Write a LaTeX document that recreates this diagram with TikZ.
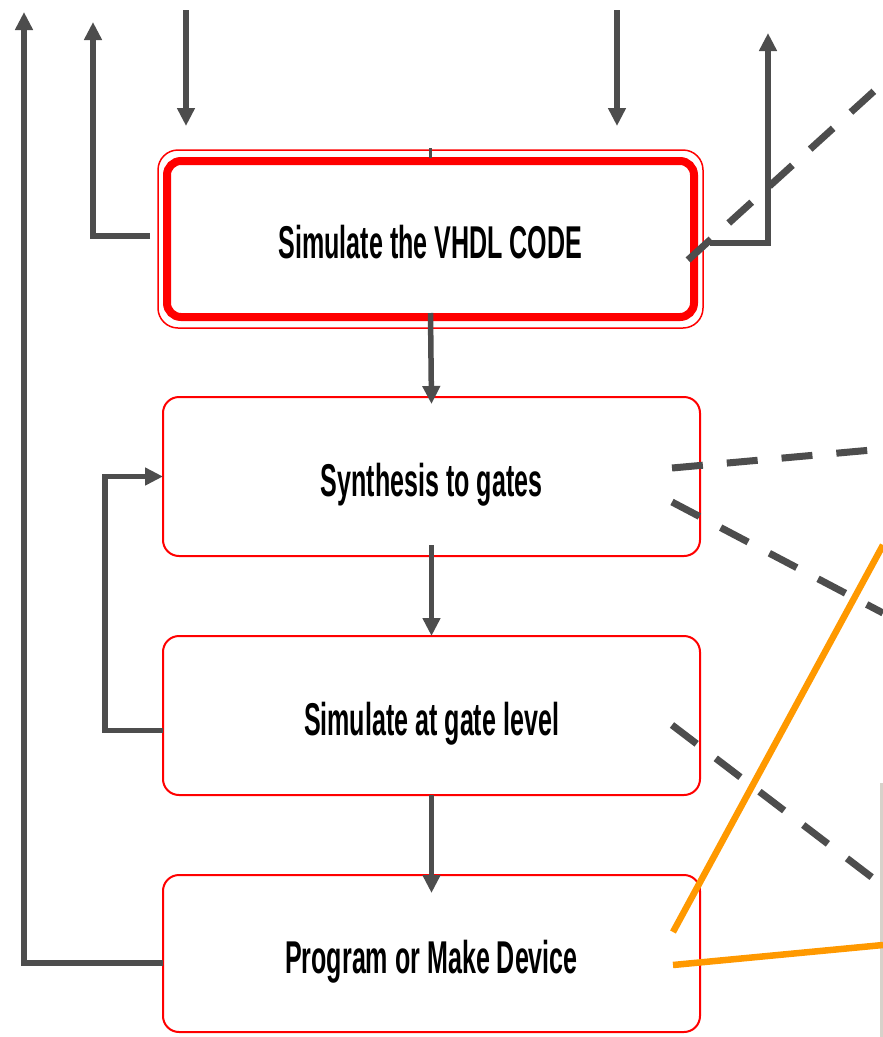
\documentclass[tikz,border=0pt]{standalone}
\usepackage{graphicx}
\usepackage{fontspec}
\setmainfont{Liberation Sans}
\usetikzlibrary{arrows.meta,calc}

\definecolor{flowred}{HTML}{FF0000}
\definecolor{linkgray}{HTML}{4D4D4D}
\definecolor{linkorange}{HTML}{FF9900}
\definecolor{edgeshade}{HTML}{D6D2CA}

\newcommand\steptext[1]{\scalebox{0.545}[1]{#1}}

\begin{document}
\begin{tikzpicture}[x=1pt,y=-1pt,
  stepbox/.style={draw=flowred, line width=2pt, rounded corners=16pt,
    minimum width=537pt, minimum height=159pt, inner sep=0pt, outer sep=0pt,
    font=\fontsize{46}{50}\selectfont\bfseries, text height=39pt, text depth=0pt,
    align=center},
  flowarrow/.style={draw=linkgray, line width=5.5pt,
    -{Triangle[length=18pt,width=17pt]}},
  linkdash/.style={draw=linkgray, line width=7pt, dash pattern=on 31pt off 24pt},
  linkbar/.style={draw=linkorange, line width=6.5pt}]

  % page
  \fill[white] (0,0) rectangle (883,1037);
  \useasboundingbox (0,0) rectangle (883,1037);
  \fill[edgeshade] (880,783) rectangle (883,1037);

  % process steps
  \node[stepbox, line width=1.5pt, minimum width=545pt, minimum height=178pt,
        rounded corners=20pt] (b1) at (430.5,239) {\steptext{Simulate the VHDL CODE}};
  \draw[flowred, line width=8pt, rounded corners=14pt]
    ($(b1.south west)+(9,-11)$) rectangle ($(b1.north east)+(-9,11)$);
  \node[stepbox] (b2) at (431.5,476.5) {\steptext{Synthesis to gates}};
  \node[stepbox] (b3) at (431.5,715.5) {\steptext{Simulate at gate level}};
  \node[stepbox, minimum height=157pt] (b4) at (431.5,953.5) {\steptext{Program or Make Device}};

  % free ends at the top
  \coordinate (inA) at (186,10);
  \coordinate (inAend) at (186,126);
  \coordinate (inB) at (617,10);
  \coordinate (inBend) at (617,126);
  \coordinate (outA) at (24,12);
  \coordinate (outB) at (93,22);
  \coordinate (outC) at (768,33);

  % incoming arrows
  \draw[flowarrow] (inA) -- (inAend);
  \draw[flowarrow] (inB) -- (inBend);
  \draw[linkgray, line width=3pt] ([yshift=2pt]b1.north) -- ([yshift=-8pt]b1.north);

  % main flow
  \draw[flowarrow] ([yshift=15pt]b1.south) -- ([yshift=-7pt]b2.north);
  \draw[flowarrow] ([yshift=11pt]b2.south) -- (b3.north);
  \draw[flowarrow] (b3.south) -- ([yshift=-18pt]b4.north);

  % feedback loop from gate-level simulation to synthesis
  \draw[flowarrow] ([yshift=-15pt]b3.west) -| ([xshift=-58pt]b2.west) -- (b2.west);

  % outgoing arrows
  \draw[flowarrow] ([yshift=-9.5pt]b4.west) -| (outA);
  \draw[flowarrow] ([xshift=-8pt,yshift=3pt]b1.west) -| (outB);
  \draw[flowarrow] ([xshift=7pt,yshift=-4pt]b1.east) -| (outC);

  % dashed links to the right
  \coordinate (dA) at (883,83);
  \coordinate (dB) at (883,449);
  \coordinate (dC) at (883,613);
  \coordinate (dD) at (878,882);
  \draw[linkdash] ([xshift=-15pt,yshift=-21pt]b1.east) -- (dA);
  \draw[linkdash] ([xshift=-28pt,yshift=8.5pt]b2.east) -- (dB);
  \draw[linkdash] ([xshift=-28pt,yshift=-25.5pt]b2.east) -- (dC);
  \draw[linkdash] ([xshift=-28pt,yshift=-9.5pt]b3.east) -- (dD);

  % orange links from the device step
  \coordinate (oA) at (883,545);
  \coordinate (oB) at (883,945);
  \draw[linkbar] ([xshift=-27pt,yshift=21.5pt]b4.east) -- (oA);
  \draw[linkbar] ([xshift=-27pt,yshift=-11.5pt]b4.east) -- (oB);
\end{tikzpicture}
\end{document}
